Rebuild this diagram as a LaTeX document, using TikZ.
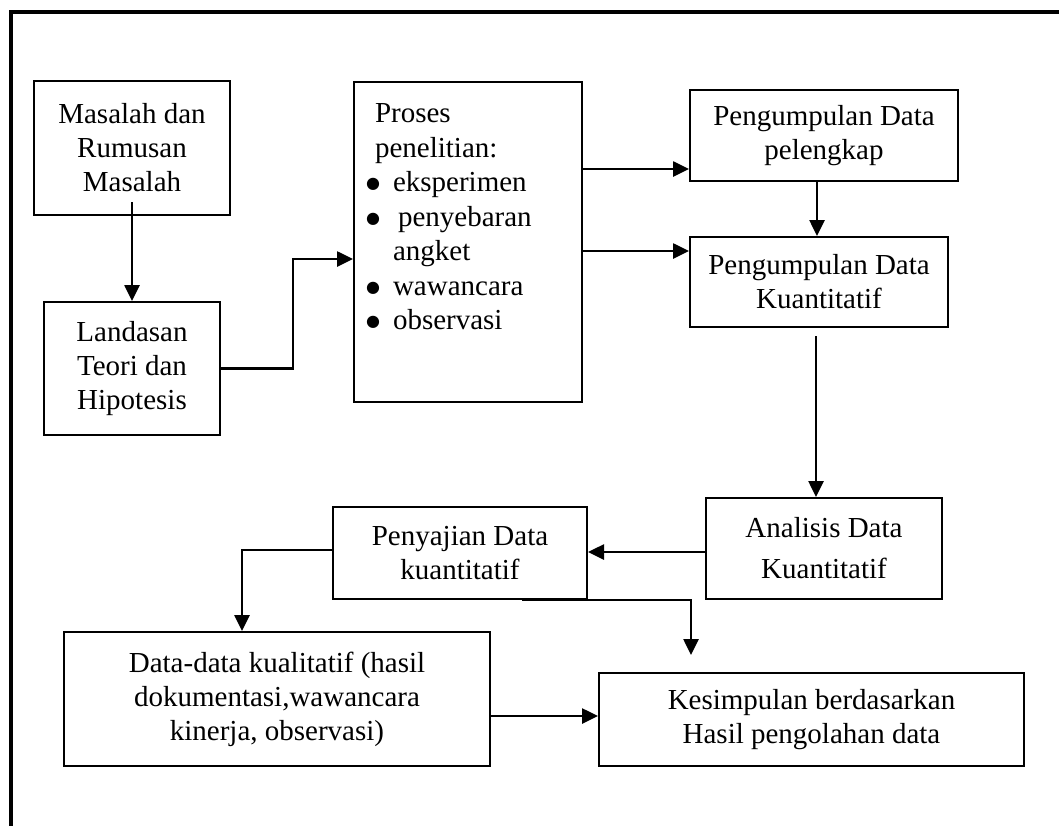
\documentclass[tikz,border=0pt]{standalone}
\usepackage{fontspec}
\setmainfont{Liberation Serif}
\newfontfamily\dejavu{DejaVu Sans}
\usetikzlibrary{arrows.meta}
\newcommand{\bul}[1]{\makebox[27pt][l]{\raisebox{3pt}{\fontsize{16pt}{16pt}\dejavu ●}}#1}
\begin{document}
\begin{tikzpicture}[x=1pt,y=-1pt,
  box/.style={draw,line width=2pt,inner sep=0pt,align=center,
    font=\fontsize{29pt}{34pt}\selectfont},
  arr/.style={line width=2.6pt,-{Triangle[length=16pt,width=15pt]}},
  conn/.style={line width=2.6pt}]
\useasboundingbox (0,0) rectangle (1059,825);
\fill[white] (0,0) rectangle (1059,825);
\draw[line width=4pt] (10.5,830) -- (10.5,12) -- (1065,12);

\node[box,minimum width=196pt,minimum height=134pt] (A) at (132,148) {Masalah dan\\Rumusan\\Masalah};
\node[box,minimum width=176pt,minimum height=133pt] (B) at (132,368.5) {Landasan\\Teori dan\\Hipotesis};
\node[box,minimum width=228pt,minimum height=320pt] (C) at (468,242) {%
  \begin{minipage}[c][276pt][t]{204pt}\fontsize{29pt}{34.5pt}\selectfont\raggedright
  \hspace*{9pt}Proses\\
  \hspace*{9pt}penelitian:\\
  \bul{eksperimen}\\
  \bul{\hspace*{5pt}penyebaran}\\
  \hspace*{27pt}angket\\
  \bul{wawancara}\\
  \bul{observasi}
  \end{minipage}};
\node[box,minimum width=268pt,minimum height=91pt] (D) at (824,135.5) {Pengumpulan Data\\pelengkap};
\node[box,minimum width=258pt,minimum height=90pt] (E) at (819,282) {Pengumpulan Data\\Kuantitatif};
\node[box,minimum width=236pt,minimum height=101pt,font=\fontsize{29pt}{41pt}\selectfont] (F) at (824,548.5) {Analisis Data\\Kuantitatif};
\node[box,minimum width=254pt,minimum height=92pt] (G) at (460,553) {Penyajian Data\\kuantitatif};
\node[box,minimum width=425pt,minimum height=93pt] (H) at (811.5,719.5) {Kesimpulan berdasarkan\\Hasil pengolahan data};
\node[box,minimum width=426pt,minimum height=134pt] (I) at (277,699) {Data-data kualitatif (hasil\\dokumentasi,wawancara\\kinerja, observasi)};

\coordinate (bc) at (0,259);
\coordinate (cd) at (0,169);
\coordinate (ce) at (0,251);
\coordinate (de) at (817,0);
\coordinate (ef) at (816,0);
\coordinate (fg) at (0,552);
\coordinate (gx) at (522,0);
\coordinate (gh) at (691,0);
\coordinate (gi) at (0,550);
\coordinate (ix) at (242,0);
\coordinate (ih) at (0,716);

\draw[arr] ([yshift=14pt]A.south) -- (B.north);
\draw[arr] (B.east) -- ++(72,0) |- (C.west |- bc);
\draw[arr] (C.east |- cd) -- (D.west |- cd);
\draw[arr] (C.east |- ce) -- (E.west |- ce);
\draw[arr] (D.south -| de) -- (E.north -| de);
\draw[arr,shorten <=8pt] (E.south -| ef) -- (F.north -| ef);
\draw[arr] (F.west |- fg) -- (G.east |- fg);
\draw[arr,shorten >=17pt] (G.south -| gx) -| (H.north -| gh);
\draw[arr] (G.west |- gi) -| (I.north -| ix);
\draw[arr] (I.east |- ih) -- (H.west |- ih);
\end{tikzpicture}
\end{document}
